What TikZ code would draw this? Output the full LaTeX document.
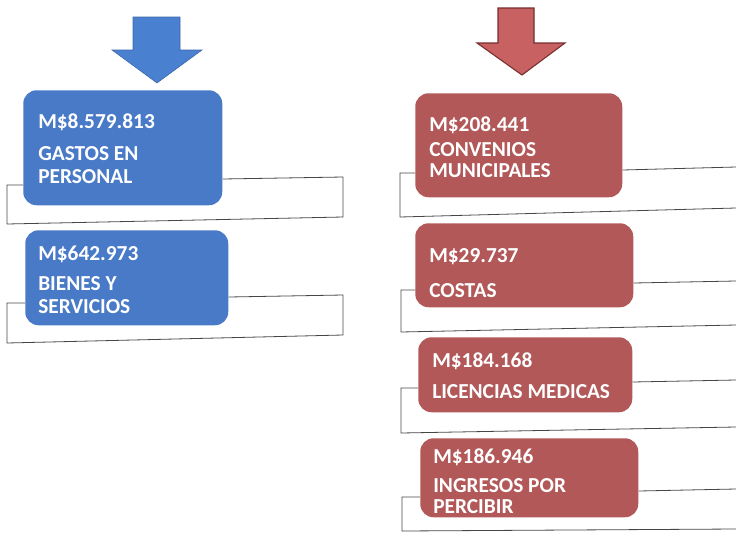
\documentclass[tikz,border=0pt]{standalone}
\usepackage{fontspec}
\setmainfont{Carlito}
\usepackage{tikz}

\definecolor{boxblue}{RGB}{72,122,200}
\definecolor{arrowblue}{RGB}{74,128,208}
\definecolor{boxred}{RGB}{178,88,88}
\definecolor{arrowred}{RGB}{200,98,98}
\definecolor{arrowredline}{RGB}{120,45,45}
\definecolor{frameline}{RGB}{70,70,70}

\tikzset{
  bluebox/.style={fill=boxblue, rounded corners=10pt, inner sep=0pt, anchor=north west},
  redbox/.style={fill=boxred, rounded corners=10pt, inner sep=0pt, anchor=north west},
  boxtext/.style={text=white, anchor=base west, align=left, inner sep=0pt},
  frame/.style={draw=frameline, line width=0.6pt}
}

\begin{document}
\begin{tikzpicture}[x=0.75pt,y=0.75pt,yscale=-1,xscale=1]
\useasboundingbox (0,0) rectangle (736,533);

%Shape: Arrow [blue]
\draw [fill=arrowblue, draw=arrowblue!80!black, line width=0.4pt] (133,17) -- (180,17) -- (180,50) -- (202,50) -- (157,83) -- (112,50) -- (133,50) -- cycle ;
%Shape: Arrow [red]
\draw [fill=arrowred, draw=arrowredline, line width=0.8pt] (498,8) -- (534,8) -- (534,43) -- (565,43) -- (522,75) -- (477,43) -- (498,43) -- cycle ;

% Left column
\node [bluebox, minimum width=149.25pt, minimum height=86.25pt] (gastos) at (23,90) {};
\node [bluebox, minimum width=152.25pt, minimum height=71.25pt] (bienes) at (25,230) {};
%Frames
\draw [frame] (gastos.west |- 0,185) -- (7,185) -- (7,224) -- (343,217) -- (343,177) -- (gastos.east |- 0,179) ;
\draw [frame] (bienes.west |- 0,303) -- (7,303) -- (7,343) -- (343,335) -- (343,295) -- (bienes.east |- 0,297) ;
% Text Node (anchored on the last line)
\node [boxtext, font=\fontsize{16}{17.25}\bfseries\selectfont] (gastosTxt) at (38,183) {M\$8.579.813\\[6.75pt]GASTOS EN\\PERSONAL};
% Text Node
\node [boxtext, font=\fontsize{16}{17.25}\bfseries\selectfont] (bienesTxt) at (38,313) {M\$642.973\\[5.25pt]BIENES Y\\SERVICIOS};

% Right column
\node [redbox, minimum width=155.25pt, minimum height=78pt] (convenios) at (415,93) {};
\node [redbox, minimum width=163.5pt, minimum height=63pt] (costas) at (415,223) {};
\node [redbox, minimum width=160.5pt, minimum height=56.25pt] (licencias) at (418,337) {};
\node [redbox, minimum width=163.5pt, minimum height=59.25pt] (ingresos) at (420,438) {};
%Frames
\draw [frame] (convenios.west |- 0,173) -- (400,173) -- (400,217) -- (736,208) ;
\draw [frame] (convenios.east |- 0,170) -- (736,167) ;
\draw [frame] (costas.west |- 0,290) -- (401,290) -- (401,332) -- (736,325) ;
\draw [frame] (costas.east |- 0,283) -- (736,281) ;
\draw [frame] (licencias.west |- 0,388) -- (401,388) -- (401,433) -- (736,427) ;
\draw [frame] (licencias.east |- 0,382) -- (736,380) ;
\draw [frame] (ingresos.west |- 0,497) -- (402,497) -- (402,531) -- (736,529) ;
\draw [frame] (ingresos.east |- 0,491) -- (736,489) ;
% Text Node
\node [boxtext, font=\fontsize{16}{15.75}\bfseries\selectfont] (conveniosTxt) at (429,177) {M\$208.441\\[3pt]CONVENIOS\\MUNICIPALES};
% Text Node
\node [boxtext, font=\fontsize{16}{12.75}\bfseries\selectfont] (costasTxt) at (429,297) {M\$29.737\\[13.5pt]COSTAS};
% Text Node
\node [boxtext, font=\fontsize{16}{12.75}\bfseries\selectfont] (licenciasTxt) at (432,398) {M\$184.168\\[10.5pt]LICENCIAS MEDICAS};
% Text Node
\node [boxtext, font=\fontsize{16}{15.75}\bfseries\selectfont] (ingresosTxt) at (433,513) {M\$186.946\\[6pt]INGRESOS POR\\PERCIBIR};

\end{tikzpicture}
\end{document}
